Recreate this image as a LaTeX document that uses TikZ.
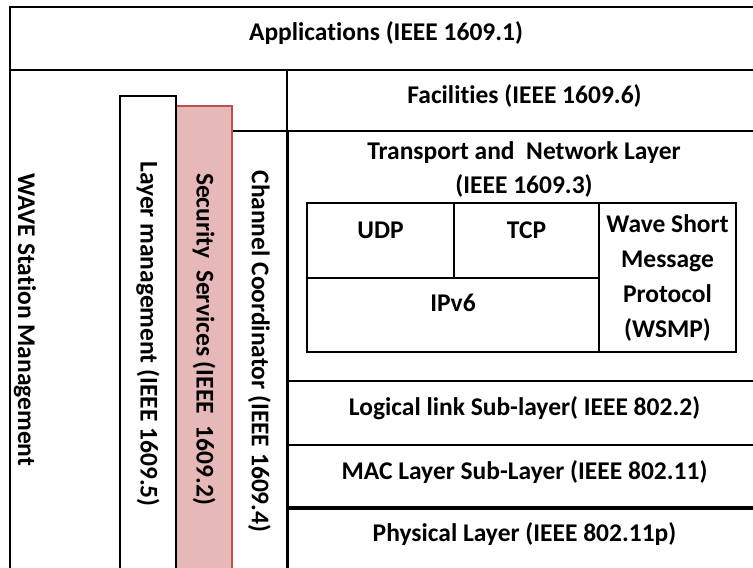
\documentclass[tikz,border=0pt]{standalone}
\usepackage{fontspec}
\setmainfont{Carlito}[Ligatures=NoCommon]
\usetikzlibrary{positioning}

\definecolor{secfill}{RGB}{230,185,184}
\definecolor{secdraw}{RGB}{192,80,77}

\tikzset{
  lyr/.style={draw, line width=2.5pt, inner sep=0pt, outer sep=0pt, align=center, minimum width=475, text depth=13pt},
  cell/.style={draw, line width=2.5pt, inner sep=0pt, outer sep=0pt, align=center},
  vbox/.style={draw, line width=2.5pt, fill=white, inner sep=0pt, outer sep=0pt, rotate=-90},
}

\begin{document}
\begin{tikzpicture}[x=1pt, y=-1pt, font=\bfseries\fontsize{25.5}{34}\selectfont]
\useasboundingbox (0,0) rectangle (753,568);

% top and left part
\node[lyr, minimum width=752, minimum height=63, text depth=15pt] (app) at (386,38.5) {Applications (IEEE 1609.1)};
\node[draw, line width=2.5pt, inner sep=0pt, outer sep=0pt, minimum width=277, minimum height=502] (wave) at (148.5,321) {};
\node[rotate=-90] (wavetxt) at (25,320) {WAVE Station Management};

% protocol layers
\node[lyr, minimum height=61] (fac) at (524.5,100.5) {Facilities (IEEE 1609.6)};
\node[lyr, minimum height=250, below=0pt of fac] (trn) {};
\node[lyr, minimum height=64, below=0pt of trn] (llc) {Logical link Sub-layer( IEEE 802.2)};
\node[lyr, minimum height=63, below=0pt of llc] (mac) {MAC Layer Sub-Layer (IEEE 802.11)};
\node[lyr, minimum height=62, below=0pt of mac] (phy) {Physical Layer (IEEE 802.11p)};
\node[align=center] (trntxt) at (524,169) {Transport and\ \ Network Layer\\(IEEE 1609.3)};

\draw[line width=4pt] (trn.north west) -- (phy.south west);
\draw[line width=4pt] (mac.south west) -- (mac.south east);

% transport table
\node[cell, minimum width=147, minimum height=75, label={[yshift=10pt]center:UDP}] (udp) at (380.5,240.5) {};
\node[cell, minimum width=145, minimum height=75, label={[yshift=10pt]center:TCP}] (tcp) at (526.5,240.5) {};
\node[cell, minimum width=292, minimum height=74, label={[yshift=12pt]center:IPv6}] (ipv6) at (453,315) {};
\node[cell, minimum width=137, minimum height=149, font=\bfseries\fontsize{25.5}{35}\selectfont] (wsmp) at (667.5,277.5) {Wave Short\\Message\\Protocol\\(WSMP)};

% vertical services
\node[vbox, minimum width=441, minimum height=55] (chan) at (259.5,351.5) {Channel Coordinator (IEEE 1609.4)};
\node[vbox, draw=secdraw, fill=secfill, minimum width=466, minimum height=56] (sec) at (204,339) {Security\ \ Services (IEEE\ \ 1609.2)};
\node[vbox, minimum width=476, minimum height=56] (lmgmt) at (148,334) {Layer management (IEEE 1609.5)};

\end{tikzpicture}
\end{document}
